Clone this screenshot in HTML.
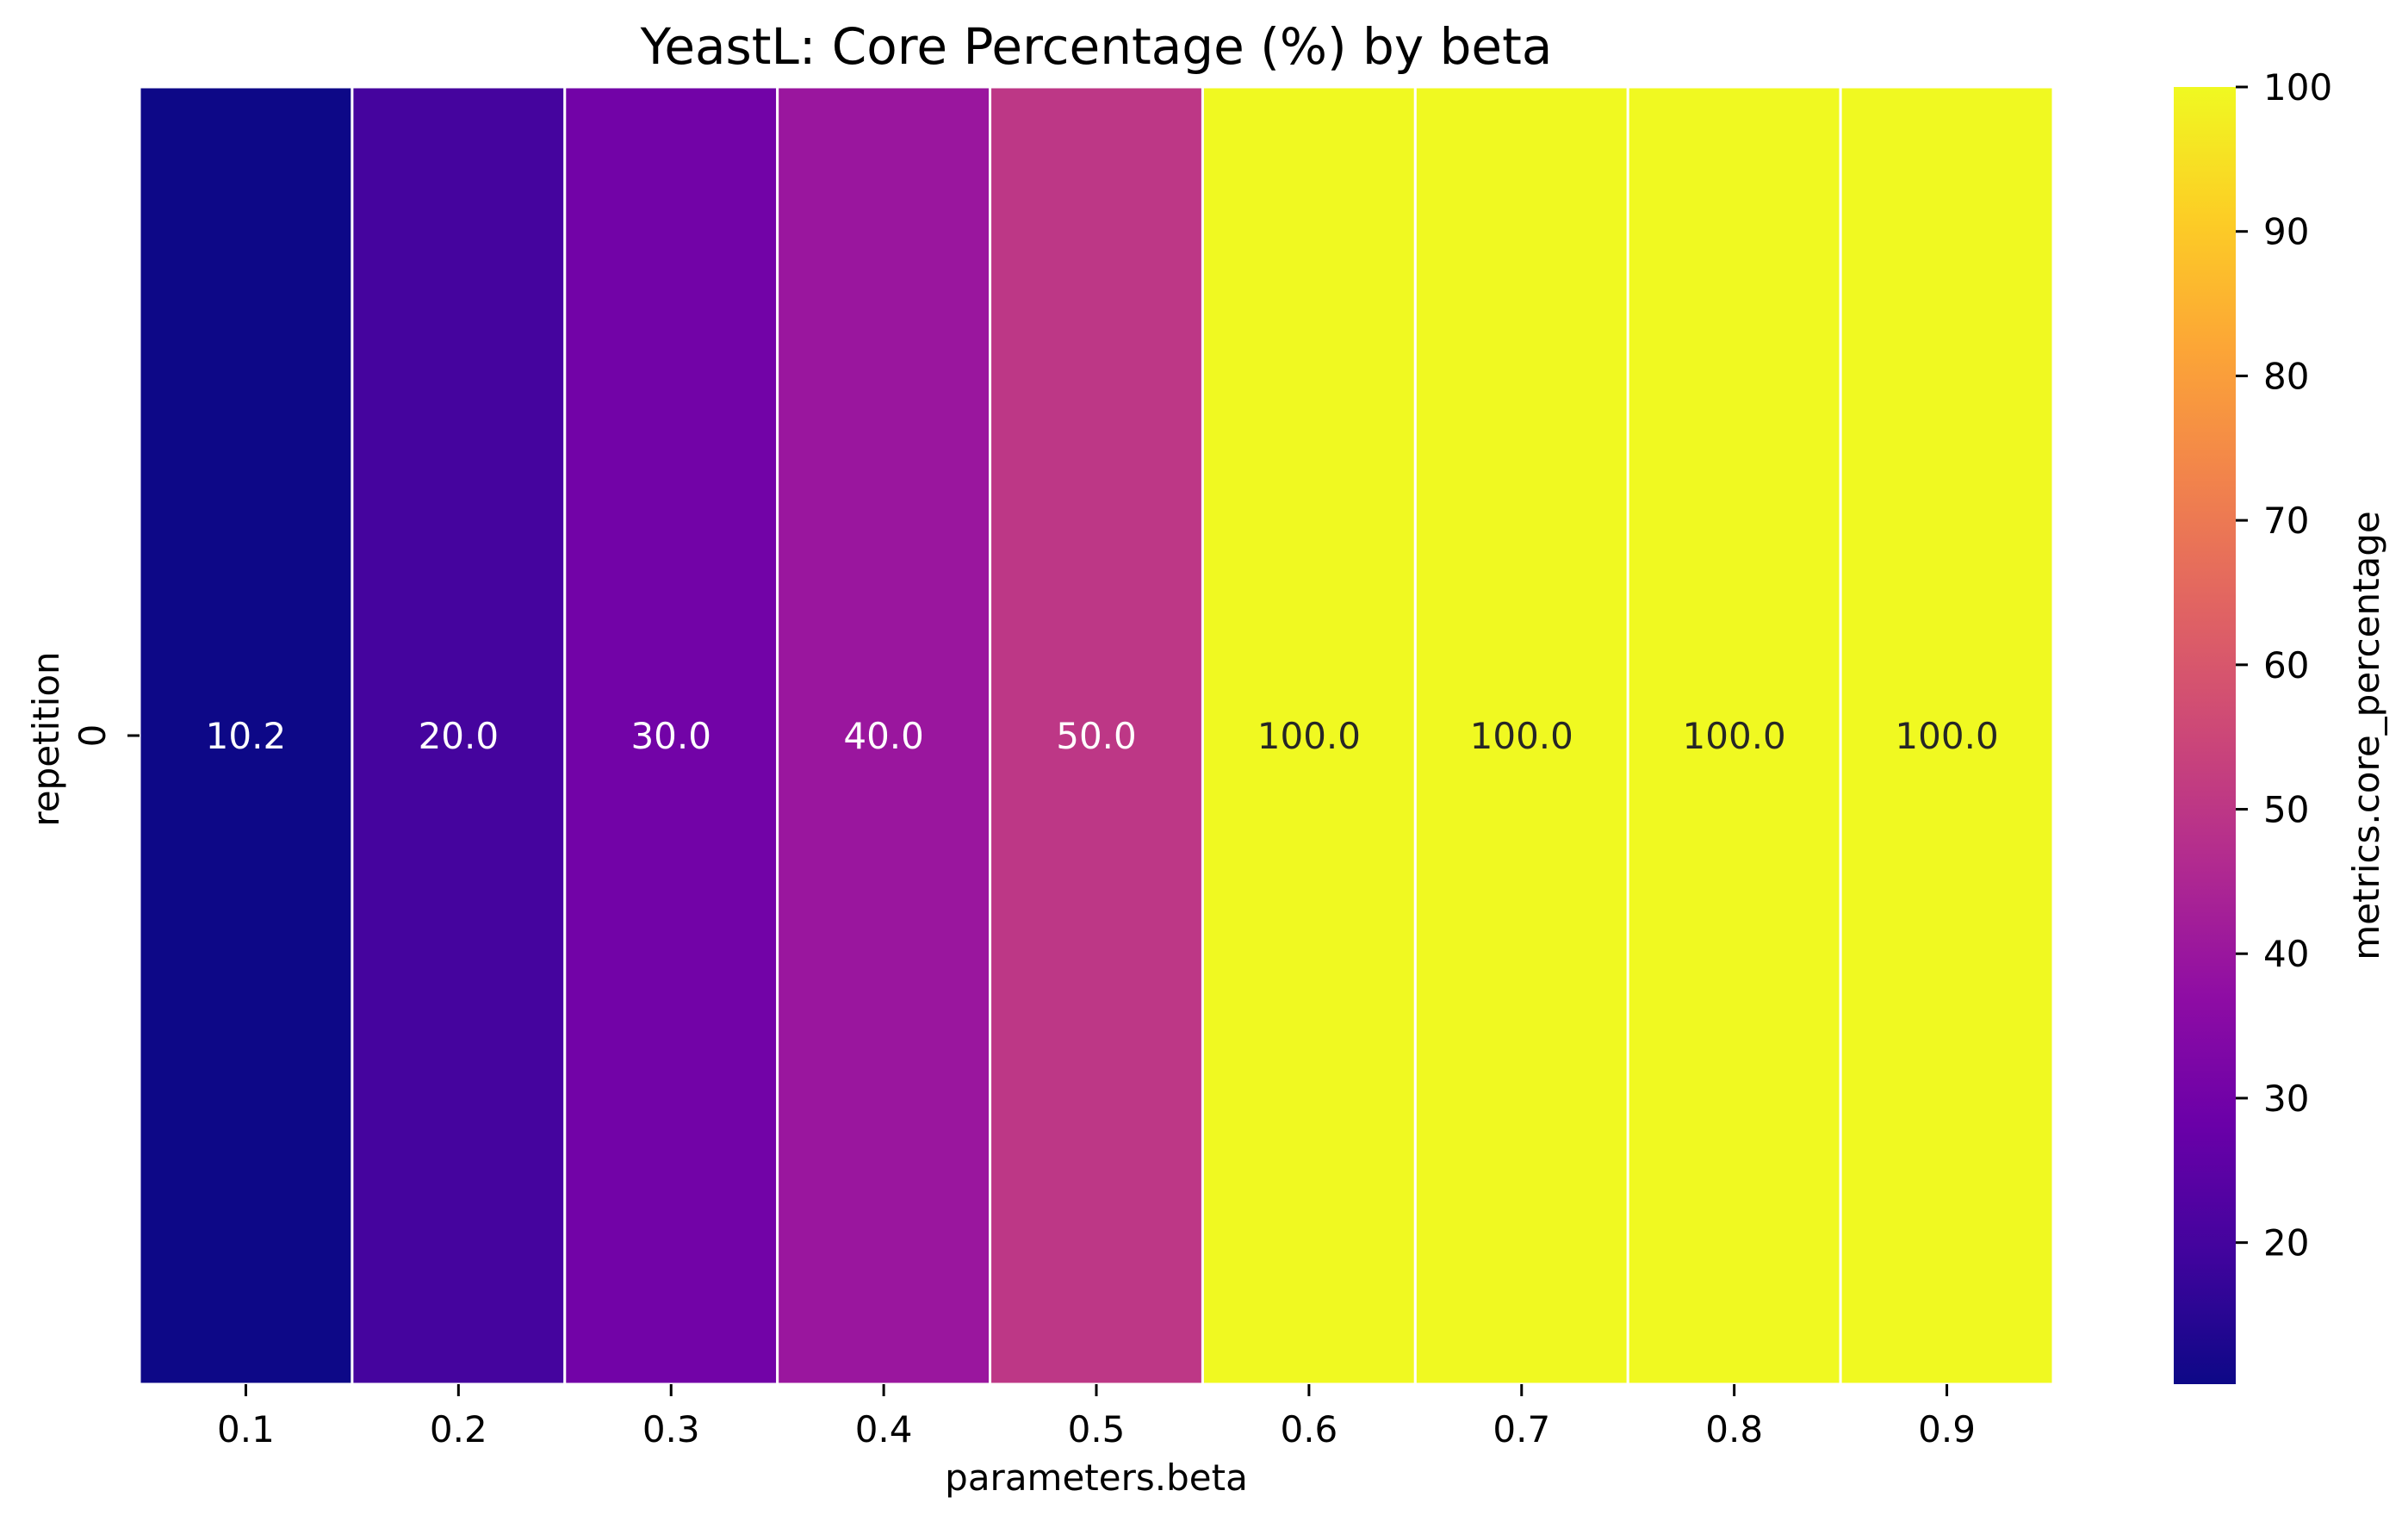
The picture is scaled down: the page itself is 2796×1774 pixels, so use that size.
<!DOCTYPE html>
<html><head><meta charset="utf-8"><style>
body{margin:0;background:#fff}
svg text{font-family:"DejaVu Sans","Liberation Sans",sans-serif;fill:#000}
</style></head><body>
<svg id="chart" width="2796" height="1769" viewBox="0 0 2796 1769" xmlns="http://www.w3.org/2000/svg">
<defs><linearGradient id="plasma" x1="0" y1="1" x2="0" y2="0">
<stop offset="0" stop-color="#0d0887"/><stop offset="0.1" stop-color="#41049d"/><stop offset="0.2" stop-color="#6a00a8"/><stop offset="0.3" stop-color="#8f0da4"/><stop offset="0.4" stop-color="#b12a90"/><stop offset="0.5" stop-color="#cc4778"/><stop offset="0.6" stop-color="#e16462"/><stop offset="0.7" stop-color="#f2844b"/><stop offset="0.8" stop-color="#fca636"/><stop offset="0.9" stop-color="#fcce25"/><stop offset="1" stop-color="#f0f921"/>
</linearGradient></defs>
<text x="1273" y="74" font-size="58" text-anchor="middle">YeastL: Core Percentage (%) by beta</text>
<g id="cells"></g>
<g id="xticks"></g>
<text x="1273" y="1730" font-size="42" text-anchor="middle">parameters.beta</text>
<text transform="translate(68,858) rotate(-90)" font-size="42" text-anchor="middle">repetition</text>
<line x1="148" y1="854" x2="162" y2="854" stroke="#000" stroke-width="3"/>
<text transform="translate(122,854) rotate(-90)" font-size="42" text-anchor="middle">0</text>
<rect x="2524" y="101" width="72" height="1506" fill="url(#plasma)"/>
<g id="cbticks"></g>
<text transform="translate(2762,854) rotate(-90)" font-size="42" text-anchor="middle">metrics.core_percentage</text>
</svg>
<script>
const categories=["0.1","0.2","0.3","0.4","0.5","0.6","0.7","0.8","0.9"];
const values=[10.2,20.0,30.0,40.0,50.0,100.0,100.0,100.0,100.0];
const cbTicks=[20,30,40,50,60,70,80,90,100];
const vmin=10.2,vmax=100;
const L=162,R=2384,T=101,B=1607;
const cw=(R-L)/categories.length;
const stops=["#0d0887","#41049d","#6a00a8","#8f0da4","#b12a90","#cc4778","#e16462","#f2844b","#fca636","#fcce25","#f0f921"];
function hex(h){return [1,3,5].map(i=>parseInt(h.substr(i,2),16));}
function cmap(v){let t=Math.max(0,Math.min(1,(v-vmin)/(vmax-vmin)))*10;let i=Math.min(9,Math.floor(t));let f=t-i;let a=hex(stops[i]),b=hex(stops[i+1]);return "rgb("+a.map((x,k)=>Math.round(x+(b[k]-x)*f)).join(",")+")";}
function xs(i){return L+i*cw;}
function cy(v){return B-(v-vmin)/(vmax-vmin)*(B-T);}
const NS="http://www.w3.org/2000/svg";
const cells=document.getElementById("cells"),xt=document.getElementById("xticks"),cb=document.getElementById("cbticks");
values.forEach((v,i)=>{
 const r=document.createElementNS(NS,"rect");
 r.setAttribute("x",xs(i));r.setAttribute("y",T);r.setAttribute("width",cw);r.setAttribute("height",B-T);
 r.setAttribute("fill",cmap(v));r.setAttribute("stroke","#fff");r.setAttribute("stroke-width","3");
 
 
 cells.appendChild(r);
 const t=document.createElementNS(NS,"text");
 t.setAttribute("x",xs(i)+cw/2);t.setAttribute("y",869);t.setAttribute("font-size","42");t.setAttribute("text-anchor","middle");
 t.style.fill=((v-vmin)/(vmax-vmin)>0.6)?"#262626":"#fff";
 t.textContent=v.toFixed(1);
 
 
 cells.appendChild(t);
});
categories.forEach((c,i)=>{
 const l=document.createElementNS(NS,"line");
 l.setAttribute("x1",xs(i)+cw/2);l.setAttribute("x2",xs(i)+cw/2);l.setAttribute("y1",B);l.setAttribute("y2",B+14);l.setAttribute("stroke","#000");l.setAttribute("stroke-width","3");
 
 
 xt.appendChild(l);
 const t=document.createElementNS(NS,"text");
 t.setAttribute("x",xs(i)+cw/2);t.setAttribute("y",1674);t.setAttribute("font-size","42");t.setAttribute("text-anchor","middle");
 t.textContent=c;
 
 
 xt.appendChild(t);
});
cbTicks.forEach(v=>{
 const y=cy(v);
 const l=document.createElementNS(NS,"line");
 l.setAttribute("x1",2596);l.setAttribute("x2",2610);l.setAttribute("y1",y);l.setAttribute("y2",y);l.setAttribute("stroke","#000");l.setAttribute("stroke-width","3");
 
 
 cb.appendChild(l);
 const t=document.createElementNS(NS,"text");
 t.setAttribute("x",2628);t.setAttribute("y",y+15);t.setAttribute("font-size","42");
 t.textContent=v;
 
 
 cb.appendChild(t);
});
</script>
</body></html>
